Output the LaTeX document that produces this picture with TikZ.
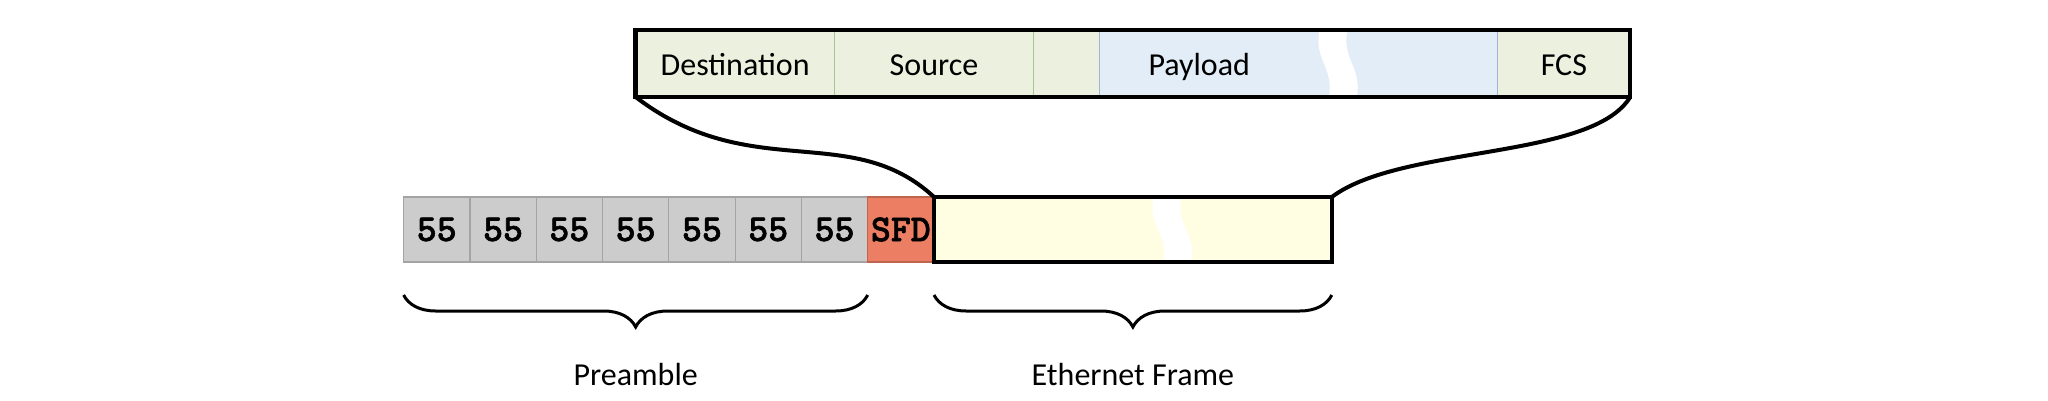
\documentclass[tikz,border=0pt]{standalone}
\usepackage{fontspec}
\setmainfont{Carlito}
\newfontfamily\bytefont{lmmonolt10-bold}[Extension=.otf, FakeBold=1.6]
\usetikzlibrary{positioning,decorations.pathreplacing}
\definecolor{byteC}{HTML}{CCCCCC}
\definecolor{sfdC}{HTML}{EC7E63}
\definecolor{frameC}{HTML}{FFFDE2}
\definecolor{hdrC}{HTML}{EBF1DE}
\definecolor{hdrL}{HTML}{A9C29A}
\definecolor{payC}{HTML}{E2EDF8}
\definecolor{payL}{HTML}{9DB8D5}
\newlength{\cellu}
\setlength{\cellu}{33.15pt}
% white S-shaped break inside a box (#1 node, #2 height in px)
\newcommand{\wavecut}[2]{%
  \fill[white, shift={(#1.north west)}]
    (220,-1) .. controls (213,#2*0.45) and (235,#2*0.55) .. (229,#2+1)
    -- (257,#2+1) .. controls (263,#2*0.55) and (241,#2*0.45) .. (248,-1) -- cycle;}
\tikzset{
  byte/.style={rectangle, fill=#1, draw=#1!80!black, line width=0.6pt,
               minimum width=\cellu, minimum height=32.5pt, inner sep=0pt, outer sep=0pt,
               font=\bytefont\fontsize{19}{19}\selectfont},
  box/.style={rectangle, fill=#1, minimum height=32.5pt, inner sep=0pt, outer sep=0pt},
  field/.style={rectangle, fill=#1, line width=0.6pt, minimum height=33.5pt,
                inner sep=0pt, outer sep=0pt, text height=13pt, text depth=1pt,
                font=\fontsize{16}{19}\selectfont},
  rim/.style={line width=2.25pt, draw=black},
  link/.style={line width=2pt, draw=black},
  brc/.style={decorate, decoration={brace, mirror, amplitude=16pt}, line width=1.5pt},
  lbl/.style={midway, anchor=base, yshift=-45pt, font=\fontsize{16}{19}\selectfont},
}
\begin{document}
\begin{tikzpicture}[x=0.5pt, y=-0.5pt]
  \useasboundingbox (0,0) rectangle (2048,401);
  % preamble bytes
  \node[byte=byteC] (b1) at (436.75,229.5) {55};
  \foreach \i [remember=\i as \j (initially 1)] in {2,...,7}
    \node[byte=byteC, right=0pt of b\j] (b\i) {55};
  \node[byte=sfdC, right=0pt of b7] (sfd) {SFD};
  \node[box=frameC, minimum width=6*\cellu, right=0pt of sfd] (frame) {};
  \wavecut{frame}{65}
  \draw[rim] (frame.north west) rectangle (frame.south east);

  % frame fields
  \node[field=hdrC, draw=hdrL, minimum width=3*\cellu, anchor=west] (dst) at (635.65,63.5) {Destination};
  \node[field=hdrC, draw=hdrL, minimum width=3*\cellu, right=0pt of dst] (src) {Source};
  \node[field=hdrC, draw=hdrL, minimum width=\cellu, right=0pt of src] (typ) {};
  \node[field=payC, draw=payL, minimum width=6*\cellu, right=0pt of typ] (pay)
    {\makebox[6\cellu][l]{\makebox[3\cellu]{Payload}}};
  \node[field=hdrC, minimum width=2*\cellu, right=0pt of pay] (fcs) {FCS};
  \wavecut{pay}{67}
  \draw[rim] (dst.north west) rectangle (fcs.south east);

  \draw[link] (dst.south west) .. controls +(115,88) and +(-83,-77) .. (frame.north west);
  \draw[link] (fcs.south east) .. controls +(-38,63) and +(69,-52) .. (frame.north east);

  \draw[brc] ([yshift=-16.5pt]b1.south west) -- ([yshift=-16.5pt]b7.south east)
    node[lbl] {Preamble};
  \draw[brc] ([yshift=-16.5pt]frame.south west) -- ([yshift=-16.5pt]frame.south east)
    node[lbl] {Ethernet Frame};
\end{tikzpicture}
\end{document}
